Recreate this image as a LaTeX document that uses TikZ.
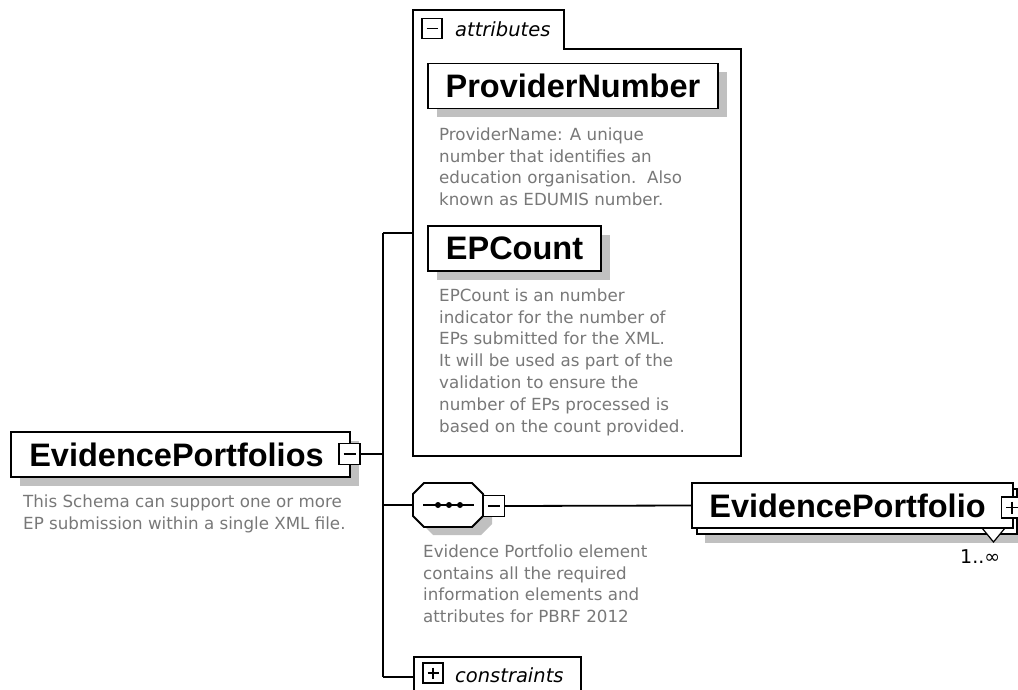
\documentclass[tikz,border=0pt]{standalone}
\usepackage{fontspec}
\setmainfont{Liberation Sans}
\newfontfamily\dejavu{DejaVu Sans}
\usetikzlibrary{shadows,calc}
\definecolor{shadegray}{RGB}{192,192,192}
\definecolor{descgray}{RGB}{120,120,120}
\tikzset{
  boxline/.style={draw=black, line width=1.8pt},
  elembase/.style={boxline, fill=white, inner sep=0pt, minimum height=45pt,
     font=\fontsize{32.5}{36}\selectfont\bfseries},
  elembox/.style={elembase,
     drop shadow={shadow xshift=9pt, shadow yshift=-8.5pt, fill=shadegray, opacity=1}},
  desctext/.style={inner sep=0pt, anchor=north west, align=left, text=descgray,
     font=\dejavu\fontsize{16.7}{21.8}\selectfont},
  grouplabel/.style={inner sep=0pt, anchor=base west,
     font=\dejavu\itshape\fontsize{19.5}{22}\selectfont},
  iconbox/.style={draw=black, line width=1.4pt, fill=white, minimum size=20pt, inner sep=0pt},
  minusicon/.style={iconbox, path picture={\draw[line width=1.4pt]
     ([xshift=4.5pt]path picture bounding box.west) -- ([xshift=-4.5pt]path picture bounding box.east);}},
  plusicon/.style={iconbox, path picture={\draw[line width=1.4pt]
     ([xshift=4.5pt]path picture bounding box.west) -- ([xshift=-4.5pt]path picture bounding box.east)
     ([yshift=-4.5pt]path picture bounding box.north) -- ([yshift=4.5pt]path picture bounding box.south);}},
  conn/.style={draw=black, line width=1.8pt},
}
\begin{document}
\begin{tikzpicture}[x=1pt,y=-1pt]
\useasboundingbox (0,0) rectangle (1018,690);

% junction coordinates
\coordinate (jroot) at (383,454);
\coordinate (jtop) at (383,233);
\coordinate (jseq) at (383,505);
\coordinate (jbot) at (383,677);
\coordinate (attrin) at (413,233);
\coordinate (seqW) at (413,505);

% connectors
\draw[conn] (jtop) -- (jbot);
\draw[conn] (jtop) -- (attrin);

% attributes container
\draw[boxline, fill=white] (413,456) -- (413,10) -- (564,10) -- (564,49) -- (741,49) -- (741,456) -- cycle;
\node[minusicon] (attricon) at (432,28.5) {};
\node[grouplabel] (attrlabel) at (455,37) {attributes};

\node[elembox, minimum width=290pt] (pn) at (573,86) {ProviderNumber};
\node[desctext] (pndesc) at (439,127.5) {ProviderName: A unique\\number that identifies an\\education organisation.\ \ Also\\known as EDUMIS number.};

\node[elembox, minimum width=173pt] (epc) at (514.5,248.5) {EPCount};
\node[desctext] (epcdesc) at (439,288.5) {EPCount is an number\\indicator for the number of\\EPs submitted for the XML.\\It will be used as part of the\\validation to ensure the\\number of EPs processed is\\based on the count provided.};

% root element
\node[elembox, minimum width=339pt] (root) at (180.5,454.5) {EvidencePortfolios\hspace*{8pt}};
\node[minusicon, minimum size=21pt] (rooticon) at (349.5,454) {};
\node[desctext] (rootdesc) at (23,495) {This Schema can support one or more\\EP submission within a single XML file.};
\draw[conn] (rooticon.east) -- (jroot);

% sequence compositor
\draw[conn] (jseq) -- (seqW);
\fill[shadegray, shift={(9,8)}] (424,483) -- (472,483) -- (483,494) -- (483,516) -- (472,527) -- (424,527) -- (413,516) -- (413,494) -- cycle;
\draw[boxline, fill=white] (424,483) -- (472,483) -- (483,494) -- (483,516) -- (472,527) -- (424,527) -- (413,516) -- (413,494) -- cycle;
\draw[line width=1.6pt] (423,505) -- (474,505);
\foreach \x in {438,449,460} \fill (\x,505) circle (3pt);
\node[minusicon, minimum size=21pt] (seqicon) at (494,506) {};
\node[desctext] (seqdesc) at (423,544.5) {Evidence Portfolio element\\contains all the required\\information elements and\\attributes for PBRF 2012};

% EvidencePortfolio (repeating element)
\fill[shadegray] (705,497) rectangle (1030,543);
\draw[boxline, fill=white] (697,489) rectangle (1017,534);
\draw[line width=1.2pt, fill=white] (982,528) -- (993.5,542) -- (1005,528);
\node[elembase, minimum width=321pt] (epf) at (852.5,505.5) {EvidencePortfolio\hspace*{10pt}};
\node[plusicon, minimum size=21pt] (epficon) at (1012,507.5) {};
\node[font=\dejavu\fontsize{19}{21}\selectfont, anchor=base west, inner sep=0pt] (mult) at (960,563) {1..∞};
\draw[conn] (seqicon.east) -- (epf.west);

% constraints
\node[boxline, fill=white, anchor=north west, minimum width=167pt, minimum height=50pt, inner sep=0pt] (con) at (413,656) {};
\node[plusicon] (conicon) at (433,673) {};
\node[grouplabel] (conlabel) at (455,682) {constraints};
\draw[conn] (jbot) -- (jbot -| con.west);
\end{tikzpicture}
\end{document}
